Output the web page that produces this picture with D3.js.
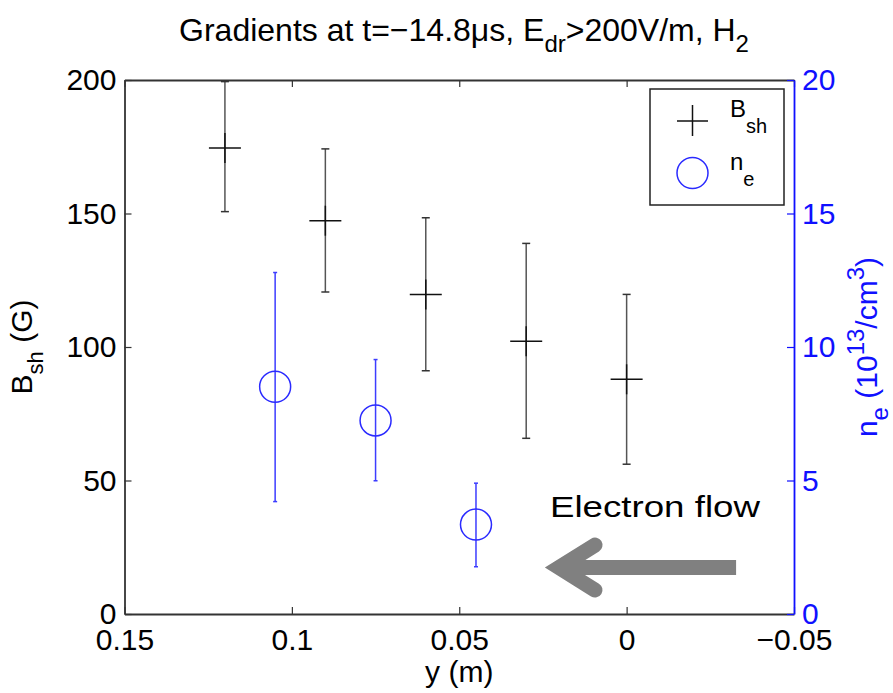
<!DOCTYPE html>
<html>
<head>
<meta charset="utf-8">
<script src="https://cdn.jsdelivr.net/npm/d3@7"></script>
<style>
  body { margin: 0; background: #fff; }
  svg { display: block; font-family: "Liberation Sans", Arial, sans-serif; }
</style>
</head>
<body>
<svg id="chart" width="893" height="693"></svg>
<script>
// B_sh series (black crosses), left axis
const bshPos = [0.12, 0.09, 0.06, 0.03, 0];
const bshVal = [174.5, 147.3, 119.7, 102.2, 87.9];
const bshLo = [150.7, 120.6, 91.1, 65.8, 56.1];
const bshHi = [199.4, 174.2, 148.4, 138.8, 119.7];

// n_e series (blue circles), right axis
const nePos = [0.105, 0.075, 0.045];
const neVal = [8.51, 7.25, 3.35];
const neLo = [4.21, 4.99, 1.77];
const neHi = [12.79, 9.53, 4.9];

const xTicks = [0.15, 0.1, 0.05, 0, -0.05];
const xTickLabels = ["0.15", "0.1", "0.05", "0", "\u22120.05"];
const yLeftTicks = [0, 50, 100, 150, 200];
const yRightTicks = [0, 5, 10, 15, 20];

// annotation arrow in data coords (x, right-axis value)
const arrowFrom = [-0.0327, 1.74];
const arrowTo = [0.0202, 1.74];
const arrowText = [0.0229, 3.63];

const width = 893, height = 693;
const margin = { top: 80, right: 99, bottom: 79, left: 124.5 };

const svg = d3.select("#chart");

const x = d3.scaleLinear().domain([0.15, -0.05]).range([margin.left, width - margin.right]);
const yL = d3.scaleLinear().domain([0, 200]).range([height - margin.bottom, margin.top]);
const yR = d3.scaleLinear().domain([0, 20]).range([height - margin.bottom, margin.top]);

const fs = 30;
const blue = "#1010ff";

// axes
const gx = svg.append("g")
    .attr("transform", `translate(0,${yL(0)})`)
    .call(d3.axisBottom(x).tickValues(xTicks).tickFormat((d, i) => xTickLabels[i])
        .tickSizeInner(-7).tickSizeOuter(0).tickPadding(15));
const gxTop = svg.append("g")
    .attr("transform", `translate(0,${yL(200)})`)
    .call(d3.axisTop(x).tickValues(xTicks).tickFormat("").tickSizeInner(-7).tickSizeOuter(0));
const gyL = svg.append("g")
    .attr("transform", `translate(${x(0.15)},0)`)
    .call(d3.axisLeft(yL).tickValues(yLeftTicks).tickSizeInner(-7).tickSizeOuter(0).tickPadding(8));
const gyR = svg.append("g")
    .attr("transform", `translate(${x(-0.05)},0)`)
    .call(d3.axisRight(yR).tickValues(yRightTicks).tickSizeInner(-7).tickSizeOuter(0).tickPadding(8));

[gx, gxTop, gyL].forEach(g => {
  g.select(".domain").attr("stroke", "#333").attr("stroke-width", 1.8);
  g.selectAll(".tick line").attr("stroke", "#333").attr("stroke-width", 1.2);
  g.selectAll("text").attr("font-size", fs).attr("fill", "#000").attr("font-family", null);
});
gyR.select(".domain").attr("stroke", blue).attr("stroke-width", 1.8);
gyR.selectAll(".tick line").attr("stroke", blue).attr("stroke-width", 1.2);
gyR.selectAll("text").attr("font-size", fs).attr("fill", blue).attr("font-family", null);

// B_sh error bars and crosses
const gb = svg.append("g");
bshPos.forEach((p, i) => {
  const cx = x(p);
  gb.append("line").attr("x1", cx).attr("x2", cx).attr("y1", yL(bshLo[i])).attr("y2", yL(bshHi[i]))
      .attr("stroke", "#555").attr("stroke-width", 1.5);
  [bshLo[i], bshHi[i]].forEach(v => {
    gb.append("line").attr("x1", cx - 4).attr("x2", cx + 4).attr("y1", yL(v)).attr("y2", yL(v))
        .attr("stroke", "#333").attr("stroke-width", 1.5);
  });
  gb.append("line").attr("x1", cx - 16).attr("x2", cx + 16).attr("y1", yL(bshVal[i])).attr("y2", yL(bshVal[i]))
      .attr("stroke", "#111").attr("stroke-width", 1.5);
  gb.append("line").attr("x1", cx).attr("x2", cx).attr("y1", yL(bshVal[i]) - 15).attr("y2", yL(bshVal[i]) + 15)
      .attr("stroke", "#111").attr("stroke-width", 1.5);
});

// n_e error bars and circles
const gn = svg.append("g");
nePos.forEach((p, i) => {
  const cx = x(p);
  gn.append("line").attr("x1", cx).attr("x2", cx).attr("y1", yR(neLo[i])).attr("y2", yR(neHi[i]))
      .attr("stroke", "#3c3cff").attr("stroke-width", 1.5);
  [neLo[i], neHi[i]].forEach(v => {
    gn.append("line").attr("x1", cx - 2).attr("x2", cx + 2).attr("y1", yR(v)).attr("y2", yR(v))
        .attr("stroke", "#3c3cff").attr("stroke-width", 1.5);
  });
  gn.append("circle").attr("cx", cx).attr("cy", yR(neVal[i])).attr("r", 15.5)
      .attr("fill", "none").attr("stroke", "#2a2aff").attr("stroke-width", 1.5);
});

// legend
const lg = svg.append("g");
lg.append("rect").attr("x", 650).attr("y", 89).attr("width", 134).attr("height", 116)
    .attr("fill", "#fff").attr("stroke", "#222").attr("stroke-width", 1.5);
lg.append("line").attr("x1", 677).attr("x2", 708).attr("y1", 121).attr("y2", 121).attr("stroke", "#111").attr("stroke-width", 1.5);
lg.append("line").attr("x1", 692.5).attr("x2", 692.5).attr("y1", 105).attr("y2", 136).attr("stroke", "#111").attr("stroke-width", 1.5);
lg.append("circle").attr("cx", 692.5).attr("cy", 173).attr("r", 15.5)
    .attr("fill", "none").attr("stroke", "#2a2aff").attr("stroke-width", 1.5);
const t1 = lg.append("text").attr("x", 730).attr("y", 117).attr("font-size", 24);
t1.append("tspan").text("B");
t1.append("tspan").attr("dy", 16).attr("font-size", 20).text("sh");
const t2 = lg.append("text").attr("x", 730).attr("y", 170).attr("font-size", 24);
t2.append("tspan").text("n");
t2.append("tspan").attr("dy", 16).attr("font-size", 20).text("e");

// title
const title = svg.append("text").attr("x", 464).attr("y", 41).attr("text-anchor", "middle").attr("font-size", 32);
title.append("tspan").text("Gradients at t=\u221214.8\u03bcs, E");
title.append("tspan").attr("dy", 11).attr("font-size", 24).text("dr");
title.append("tspan").attr("dy", -11).text(">200V/m, H");
title.append("tspan").attr("dy", 11).attr("font-size", 24).text("2");

// axis labels
svg.append("text").attr("x", x(0.05)).attr("y", 682).attr("text-anchor", "middle")
    .attr("font-size", fs).text("y (m)");

const yl = svg.append("text").attr("transform", `translate(32,${(yL(0) + yL(200)) / 2}) rotate(-90)`)
    .attr("text-anchor", "middle").attr("font-size", fs);
yl.append("tspan").text("B");
yl.append("tspan").attr("dy", 11).attr("font-size", 22).text("sh");
yl.append("tspan").attr("dy", -11).text(" (G)");

const yr = svg.append("text").attr("transform", `translate(877,${(yR(0) + yR(20)) / 2}) rotate(-90)`)
    .attr("text-anchor", "middle").attr("font-size", 30).attr("fill", blue);
yr.append("tspan").text("n");
yr.append("tspan").attr("dy", 11).attr("font-size", 24).text("e");
yr.append("tspan").attr("dy", -11).text(" (10");
yr.append("tspan").attr("dy", -13).attr("font-size", 24).text("13");
yr.append("tspan").attr("dy", 13).text("/cm");
yr.append("tspan").attr("dy", -13).attr("font-size", 24).text("3");
yr.append("tspan").attr("dy", 13).text(")");

// electron flow arrow
const ax0 = x(arrowFrom[0]), ay = yR(arrowFrom[1]), ax1 = x(arrowTo[0]);
svg.append("path")
    .attr("d", `M${ax0},${ay}H${ax1 + 4}`)
    .attr("stroke", "#808080").attr("stroke-width", 15).attr("fill", "none");
svg.append("path")
    .attr("d", `M${ax1 + 36},${ay - 22.5}L${ax1},${ay}L${ax1 + 36},${ay + 22.5}`)
    .attr("stroke", "#808080").attr("stroke-width", 15).attr("fill", "none")
    .attr("stroke-linecap", "round").attr("stroke-linejoin", "miter");
svg.append("text").attr("x", x(arrowText[0])).attr("y", yR(arrowText[1]))
    .attr("font-size", 30).attr("textLength", 210).attr("lengthAdjust", "spacingAndGlyphs")
    .text("Electron flow");
</script>
</body>
</html>
